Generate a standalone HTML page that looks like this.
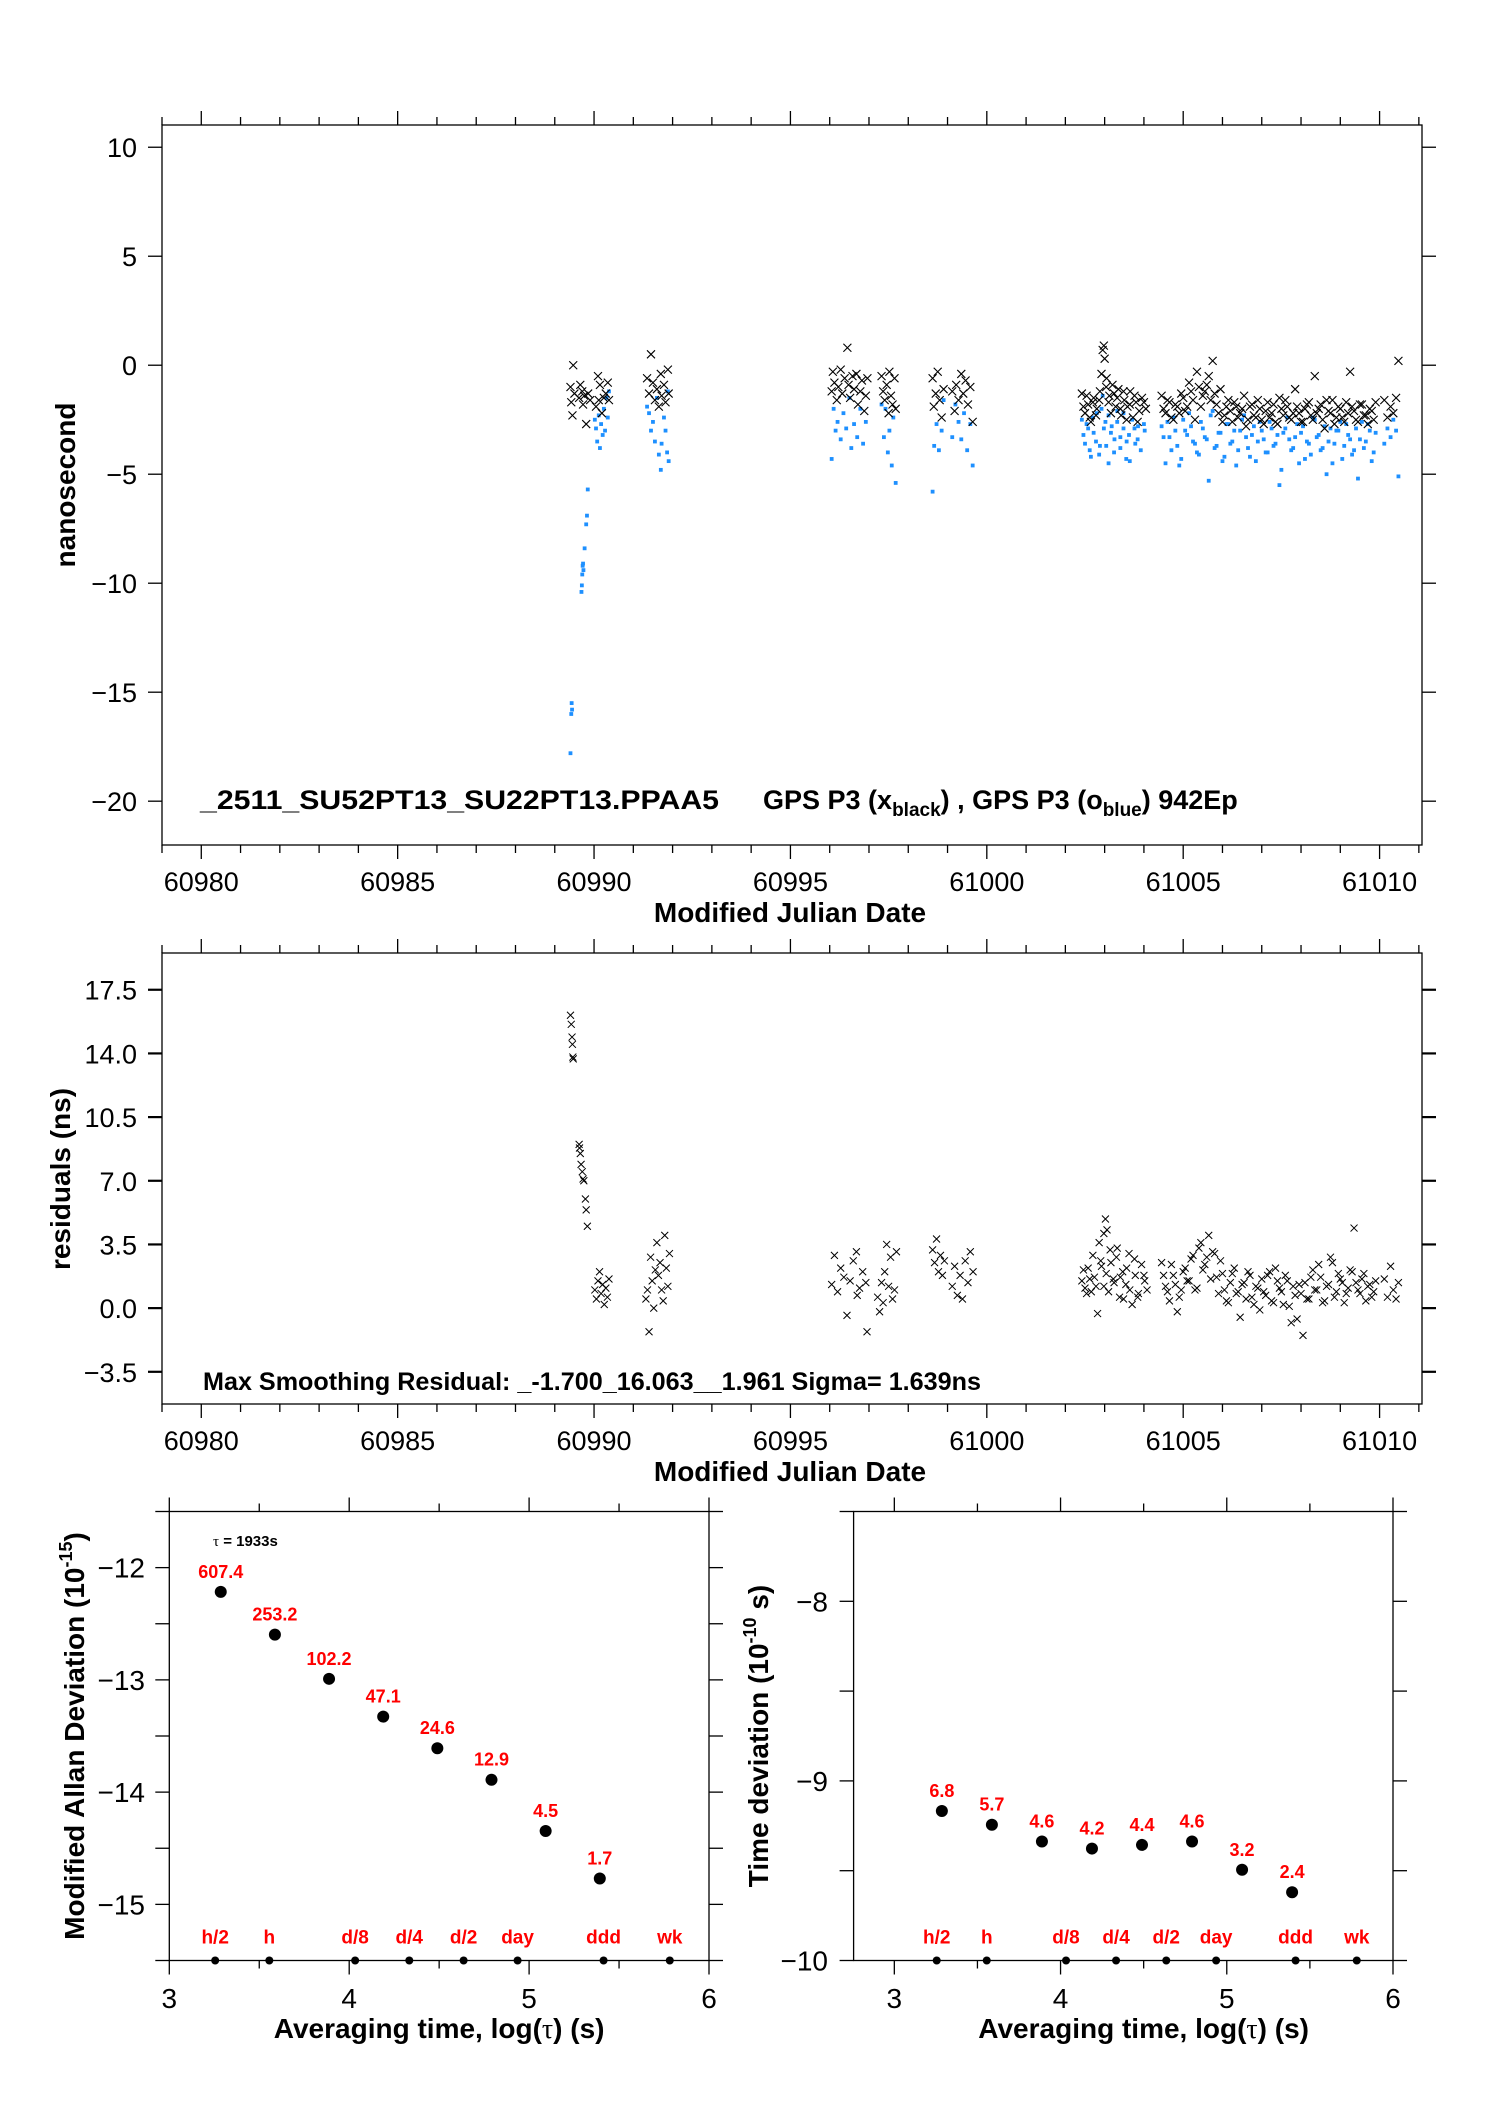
<!DOCTYPE html>
<html><head><meta charset="utf-8"><style>
html,body{margin:0;padding:0;background:#fff;}
svg{display:block;font-family:"Liberation Sans",Arial,sans-serif;}
</style></head><body>
<svg id="fig" width="1488" height="2105" viewBox="0 0 1488 2105" xmlns="http://www.w3.org/2000/svg">
<rect width="1488" height="2105" fill="#fff"/>
<g id="p1"></g>
<g id="p2"></g>
<g id="p3"></g>
<g id="p4"></g>
</svg>
<script>
// ---------- DATA ----------
const blackT=[60989.40,60989.42,60989.45,60989.47,60989.50,60989.62,60989.65,60989.70,60989.72,60989.75,60989.80,60989.85,60989.90,60990.05,60990.10,60990.12,60990.15,60990.20,60990.25,60990.30,60990.35,60990.38,
60991.35,60991.40,60991.45,60991.50,60991.55,60991.60,60991.65,60991.70,60991.72,60991.78,60991.82,60991.88,60991.90,
60996.05,60996.08,60996.12,60996.18,60996.22,60996.28,60996.32,60996.38,60996.45,60996.48,60996.52,60996.58,60996.62,60996.68,60996.72,60996.78,60996.82,60996.88,60996.92,60996.96,
60997.32,60997.36,60997.40,60997.45,60997.50,60997.52,60997.56,60997.60,60997.65,60997.68,
60998.62,60998.65,60998.70,60998.75,60998.80,60998.85,60998.90,
60999.12,60999.18,60999.22,60999.28,60999.35,60999.40,60999.46,60999.52,60999.58,60999.64,
61002.42,61002.50,61002.58,61002.65,61002.72,61002.80,61002.88,61002.95,61003.00,61003.05,61003.12,61003.20,61003.28,61003.35,61003.42,61003.50,61003.58,61003.65,61003.72,61003.80,61003.88,61003.95,61004.05,
61004.45,61004.55,61004.65,61004.75,61004.85,61004.95,61005.05,61005.15,61005.25,61005.35,61005.45,61005.55,61005.65,61005.75,61005.85,61005.95,61006.05,61006.15,61006.25,61006.35,61006.45,61006.55,61006.65,61006.75,61006.85,61006.95,61007.05,61007.15,61007.25,61007.35,61007.45,61007.55,61007.65,61007.75,61007.85,61007.95,61008.05,61008.15,61008.25,61008.35,61008.45,61008.55,61008.65,61008.75,61008.85,61008.95,61009.05,61009.15,61009.25,61009.35,61009.45,61009.55,61009.65,61009.75,61009.85,
61010.12,61010.20,61010.28,61010.35,61010.42,61010.48];
const blackV=[-1.0,-1.7,-2.3,0.0,-1.3,-1.5,-0.9,-1.2,-1.8,-1.4,-2.7,-1.3,-1.6,-1.9,-0.5,-1.6,-0.9,-2.2,-1.5,-1.3,-0.8,-1.6,
-0.6,-1.3,0.5,-0.8,-1.6,-1.1,-1.9,-0.4,-1.4,-0.9,-1.7,-0.2,-1.3,
-1.2,-0.3,-0.8,-1.6,-1.0,-0.2,-1.3,-0.6,0.8,-0.9,-1.5,-0.5,-1.1,-0.4,-1.8,-1.2,-0.7,-2.1,-1.4,-0.6,
-0.5,-1.2,-1.6,-0.9,-2.2,-0.3,-1.4,-1.8,-0.6,-2.0,
-0.6,-1.9,-1.3,-0.3,-1.6,-2.4,-1.1,
-1.2,-2.1,-0.9,-1.6,-0.4,-1.3,-0.7,-1.8,-1.0,-2.6,
-1.3,-2.2,-1.8,-2.6,-1.5,-2.0,-1.2,0.7,0.3,-0.6,-1.4,-0.9,-1.9,-1.1,-2.3,-1.6,-1.9,-1.2,-2.4,-1.7,-2.1,-1.5,-2.0,
-1.4,-2.2,-1.7,-2.5,-1.9,-1.3,-2.1,-0.8,-1.6,-0.3,-1.9,-1.2,-0.5,0.2,-1.8,-1.1,-2.3,-1.6,-2.6,-1.9,-2.2,-1.4,-2.5,-1.8,-2.4,-2.0,-2.7,-1.7,-2.2,-2.6,-1.5,-2.3,-1.9,-2.5,-1.1,-2.2,-2.6,-1.8,-2.3,-0.5,-2.0,-2.5,-1.6,-2.2,-2.7,-1.9,-2.4,-1.7,-0.3,-2.1,-2.6,-1.8,-2.3,-2.0,-2.5,
-1.6,-2.4,-1.9,-2.2,-1.5,0.2];
// extra sampling times for the dense late segments (shared by all three series)
const denseT=[61002.46,61002.54,61002.62,61002.70,61002.78,61002.86,61002.92,61002.98,61003.04,61003.10,61003.16,61003.24,61003.32,61003.40,61003.48,61003.56,61003.64,61003.76,61003.84,61004.00,
61004.50,61004.60,61004.70,61004.80,61004.90,
61005.00,61005.10,61005.20,61005.30,61005.40,61005.50,61005.60,61005.70,61005.80,61005.90,
61006.00,61006.10,61006.20,61006.30,61006.40,61006.50,61006.60,61006.70,61006.80,61006.90,
61007.00,61007.10,61007.20,61007.30,61007.40,61007.50,61007.60,61007.70,61007.80,61007.90,
61008.00,61008.10,61008.20,61008.30,61008.40,61008.50,61008.60,61008.70,61008.80,61008.90,
61009.00,61009.10,61009.20,61009.30,61009.40,61009.50,61009.60,61009.70,61009.80,61009.90];
const blackDenseV=[-1.9,-1.4,-2.4,-1.7,-2.3,-1.6,-0.4,0.9,-1.0,-1.7,-2.2,-1.3,-1.5,-2.0,-1.2,-2.5,-1.8,-1.4,-2.6,-1.7,
-2.0,-1.6,-2.4,-1.8,-2.2,-1.5,-1.9,-1.2,-2.5,-1.0,
-1.4,-0.9,-1.6,-1.3,-2.2,-2.6,-1.9,-2.1,-1.7,-2.4,
-2.0,-2.8,-1.9,-2.3,-1.6,-2.5,-2.1,-2.4,-1.8,-2.7,
-2.0,-1.6,-2.4,-2.2,-1.9,-2.6,-2.0,-1.7,-2.5,-2.2,
-1.8,-2.9,-2.1,-1.6,-2.4,-2.0,-2.6,-2.2,-1.9,-2.5,
-1.8,-2.3,-2.7,-2.1,-1.7];
const blueT=[60989.40,60989.42,60989.43,60989.44,60989.68,60989.69,60989.70,60989.71,60989.72,60989.73,60989.76,60989.80,60989.82,60989.84,
60990.02,60990.05,60990.08,60990.12,60990.15,60990.18,60990.22,60990.25,60990.28,60990.32,60990.35,60990.38,
60991.35,60991.40,60991.45,60991.50,60991.55,60991.60,60991.65,60991.70,60991.72,60991.78,60991.82,60991.86,60991.90,60991.88,
60996.05,60996.10,60996.15,60996.20,60996.28,60996.35,60996.42,60996.50,60996.55,60996.62,60996.70,60996.78,60996.85,60996.92,
60997.32,60997.38,60997.42,60997.48,60997.52,60997.58,60997.62,60997.68,
60998.62,60998.66,60998.72,60998.78,60998.85,60998.90,
60999.12,60999.20,60999.28,60999.35,60999.42,60999.50,60999.58,60999.64,
61002.42,61002.50,61002.58,61002.65,61002.72,61002.80,61002.88,61002.95,61003.02,61003.10,61003.18,61003.25,61003.32,61003.40,61003.48,61003.55,61003.62,61003.70,61003.78,61003.85,61003.92,61004.02,
61004.45,61004.55,61004.65,61004.75,61004.85,61004.95,61005.05,61005.15,61005.25,61005.35,61005.45,61005.55,61005.65,61005.75,61005.85,61005.95,61006.05,61006.15,61006.25,61006.35,61006.45,61006.55,61006.65,61006.75,61006.85,61006.95,61007.05,61007.15,61007.25,61007.35,61007.45,61007.55,61007.65,61007.75,61007.85,61007.95,61008.05,61008.15,61008.25,61008.35,61008.45,61008.55,61008.65,61008.75,61008.85,61008.95,61009.05,61009.15,61009.25,61009.35,61009.45,61009.55,61009.65,61009.75,61009.85,
61010.12,61010.20,61010.28,61010.35,61010.42,61010.48];
const blueV=[-17.8,-16.0,-15.5,-15.8,-10.4,-10.1,-9.6,-9.2,-9.1,-9.4,-8.4,-7.3,-6.9,-5.7,
-2.5,-2.9,-3.5,-2.3,-3.8,-2.7,-3.2,-2.0,-3.0,-1.5,-2.4,-1.2,
-1.9,-2.2,-3.0,-2.6,-3.5,-1.5,-4.1,-4.8,-3.6,-2.4,-3.0,-4.0,-4.4,-1.2,
-4.3,-2.0,-3.0,-2.6,-3.4,-2.2,-2.9,-1.5,-3.8,-2.7,-3.3,-2.0,-3.6,-2.6,
-1.8,-3.3,-2.0,-4.0,-3.0,-4.6,-2.4,-5.4,
-5.8,-3.7,-2.7,-3.9,-3.0,-1.6,
-3.3,-1.8,-2.6,-3.4,-2.2,-3.9,-2.7,-4.6,
-2.5,-3.6,-2.9,-4.2,-3.1,-2.2,-3.7,-1.4,-2.6,-4.5,-2.8,-3.4,-2.1,-3.8,-2.9,-4.3,-3.2,-2.5,-3.6,-2.8,-3.9,-3.0,
-2.8,-4.5,-3.3,-2.4,-3.7,-4.3,-3.0,-2.2,-3.5,-4.0,-2.6,-3.3,-5.3,-2.1,-3.7,-3.1,-4.2,-2.7,-3.5,-4.6,-3.0,-2.3,-3.8,-3.2,-4.4,-2.6,-3.4,-4.0,-2.9,-3.6,-5.5,-3.1,-2.4,-3.9,-3.3,-4.5,-2.8,-3.5,-4.1,-2.5,-3.2,-3.8,-5.0,-2.9,-3.6,-3.0,-4.3,-2.7,-3.4,-3.9,-5.2,-2.6,-3.5,-3.0,-4.0,
-3.6,-2.9,-3.3,-2.5,-3.0,-5.1];
const blueDenseV=[-3.2,-2.7,-3.9,-2.4,-3.5,-4.1,-2.0,-2.9,-3.7,-2.3,-3.1,-4.0,-2.6,-3.3,-2.2,-3.5,-4.4,-2.9,-3.4,-2.7,
-3.3,-2.6,-3.9,-3.0,-4.6,-2.5,-3.2,-2.8,-3.6,-4.1,
-2.9,-3.4,-2.3,-3.8,-3.1,-4.4,-2.7,-3.6,-3.0,-3.9,
-2.5,-3.3,-4.2,-2.8,-3.5,-3.0,-4.0,-2.6,-3.7,-3.2,
-4.8,-2.9,-3.4,-3.8,-2.7,-3.1,-4.3,-3.6,-2.4,-3.3,
-3.9,-2.8,-3.5,-4.5,-3.0,-2.6,-3.7,-3.2,-4.1,-2.9,
-3.4,-3.8,-2.7,-4.4,-3.1];
const resT=[60989.40,60989.42,60989.44,60989.45,60989.46,60989.47,
60989.62,60989.63,60989.65,60989.67,60989.70,60989.72,60989.74,60989.78,60989.80,60989.83,
60990.02,60990.06,60990.10,60990.14,60990.18,60990.22,60990.26,60990.30,60990.34,60990.38,
60991.32,60991.36,60991.40,60991.44,60991.48,60991.52,60991.56,60991.60,60991.64,60991.68,60991.72,60991.76,60991.80,60991.84,60991.88,60991.92,
60996.05,60996.12,60996.20,60996.28,60996.36,60996.44,60996.52,60996.60,60996.68,60996.76,60996.84,60996.92,60996.70,60996.95,
60997.22,60997.27,60997.32,60997.36,60997.40,60997.45,60997.50,60997.55,60997.60,60997.65,60997.70,
60998.62,60998.67,60998.72,60998.77,60998.82,60998.87,60998.92,
60999.12,60999.18,60999.25,60999.32,60999.38,60999.45,60999.52,60999.58,60999.65,
61002.42,61002.50,61002.58,61002.66,61002.74,61002.82,61002.90,61002.98,61003.02,61003.06,61003.14,61003.22,61003.30,61003.38,61003.46,61003.54,61003.62,61003.70,61003.78,61003.86,61003.94,61004.02,61004.08,
61004.45,61004.55,61004.65,61004.75,61004.85,61004.95,61005.05,61005.15,61005.25,61005.35,61005.45,61005.55,61005.65,61005.75,61005.85,61005.95,61006.05,61006.15,61006.25,61006.35,61006.45,61006.55,61006.65,61006.75,61006.85,61006.95,61007.05,61007.15,61007.25,61007.35,61007.45,61007.55,61007.65,61007.75,61007.85,61007.95,61008.05,61008.15,61008.25,61008.35,61008.45,61008.55,61008.65,61008.75,61008.85,61008.95,61009.05,61009.15,61009.25,61009.35,61009.45,61009.55,61009.65,61009.75,61009.85,
61010.12,61010.20,61010.28,61010.35,61010.42,61010.48];
const resV=[16.1,15.6,14.9,14.5,13.8,13.7,
9.0,8.8,8.5,7.9,7.5,7.1,7.0,6.0,5.4,4.5,
1.0,0.5,1.5,2.0,0.8,1.3,0.2,1.1,0.6,1.6,
0.5,1.0,-1.3,2.8,1.5,0.0,2.1,3.6,1.8,2.5,1.0,0.4,4.0,2.2,1.2,3.0,
1.3,2.9,0.9,2.2,1.7,-0.4,1.5,2.6,3.1,1.1,2.0,1.4,0.7,-1.3,
0.6,-0.2,1.4,0.3,2.0,3.5,1.2,2.8,0.5,1.0,3.1,
3.2,2.5,3.8,2.0,2.9,1.8,2.6,
1.2,2.3,0.7,1.8,0.5,2.6,1.4,3.1,2.0,
1.5,1.1,2.2,0.9,1.7,-0.3,2.6,1.2,4.9,4.3,3.2,1.6,2.8,0.6,2.0,1.3,3.0,0.2,1.8,0.8,2.4,1.5,1.0,
2.5,1.2,0.4,1.8,-0.2,1.0,2.2,1.5,2.9,1.1,3.6,2.4,4.0,3.1,1.7,2.6,1.0,0.3,1.9,0.8,-0.5,1.4,2.0,0.6,1.2,-0.1,0.9,1.8,0.4,2.2,1.1,0.2,1.5,-0.8,0.7,1.3,-1.5,0.5,1.7,1.0,2.4,0.3,1.2,2.8,0.6,1.9,1.4,0.8,2.1,4.4,1.0,1.6,0.4,1.3,0.9,
1.6,0.6,2.3,1.0,0.5,1.4];
const resDenseV=[2.1,0.8,1.6,2.9,1.2,3.6,2.3,4.1,1.9,0.9,2.5,1.4,3.3,1.7,0.5,2.2,1.0,2.7,0.6,1.8,
1.8,0.9,2.4,1.3,0.6,2.0,1.5,2.7,1.0,3.3,
2.1,2.8,1.6,3.0,0.8,1.9,0.4,1.4,2.2,0.9,
1.3,0.5,1.8,0.2,1.1,1.6,0.7,2.0,0.3,1.5,
0.9,1.8,0.1,1.2,-0.6,0.8,1.4,0.5,2.1,1.0,
1.7,0.4,1.3,2.5,0.9,1.6,0.3,1.1,2.0,1.4,
0.8,1.9,1.2,0.6,1.5];
const mdevX=[3.286,3.587,3.888,4.189,4.490,4.791,5.092,5.393];
const mdevVals=[607.4,253.2,102.2,47.1,24.6,12.9,4.5,1.7];
const tdevX=[3.286,3.587,3.888,4.189,4.490,4.791,5.092,5.393];
const tdevVals=[6.8,5.7,4.6,4.2,4.4,4.6,3.2,2.4];
const markNames=["h/2","h","d/8","d/4","d/2","day","ddd","wk"];
const markX=[3.255,3.556,4.033,4.334,4.636,4.936,5.414,5.782];
const mjdTicks=[60980,60985,60990,60995,61000,61005,61010];
const nsTicks=[10,5,0,-5,-10,-15,-20];
const resTicks=[17.5,14.0,10.5,7.0,3.5,0.0,-3.5];
const mdevTicks=[-12,-13,-14,-15];
const tdevTicks=[-8,-9,-10];
const logTicks=[3,4,5,6];

// ---------- HELPERS ----------
const NS="http://www.w3.org/2000/svg";
function mk(tag,attrs,parent,txt){const e=document.createElementNS(NS,tag);for(const k in attrs)e.setAttribute(k,attrs[k]);if(txt!==undefined)e.textContent=txt;parent.appendChild(e);return e;}
function scale(d0,d1,r0,r1){return v=>r0+(v-d0)*(r1-r0)/(d1-d0);}
function frame(g,L,T,R,B){const f=mk('rect',{x:L,y:T,width:R-L,height:B-T,fill:'none',stroke:'#000','stroke-width':1.3},g);

}
function tick(g,x1,y1,x2,y2,w){mk('line',{x1:x1,y1:y1,x2:x2,y2:y2,stroke:'#000','stroke-width':w||1.3},g);}

// ---------- MJD PLOTS ----------
const L=162,R=1422;
const xM=scale(60979,61011.08,L,R);
function mjdAxis(g,T,B,labelY,titleY){
  for(let d=60979;d<=61011;d++){const x=xM(d);const maj=(d%5===0);
    tick(g,x,T,x,T-(maj?14:8));tick(g,x,B,x,B+(maj?14:8));}
  const ax=mk('g',{},g);
  
  
  mjdTicks.forEach(v=>{const t=mk('text',{x:xM(v),y:labelY,'font-size':27,'text-anchor':'middle'},ax,String(v));
    
    });
  const tt=mk('text',{x:790,y:titleY,'font-size':28,'font-weight':'bold','text-anchor':'middle'},g,'Modified Julian Date');
  
  
}
function crosses(g,ts,vs,y,h,name){
  ts.forEach((t,i)=>{const cx=xM(t),cy=y(vs[i]);
    const p=mk('path',{d:`M${cx-h} ${cy-h}L${cx+h} ${cy+h}M${cx-h} ${cy+h}L${cx+h} ${cy-h}`},g);
    
    });
}
function squares(g,ts,vs,y){
  ts.forEach((t,i)=>{const r=mk('rect',{x:xM(t)-1.9,y:y(vs[i])-1.9,width:3.8,height:3.8},g);
    
    });
}
// plot 1
(function(){
  const g=document.getElementById('p1');const T=125,B=845;
  const y=scale(11.02,-22.01,T,B);
  frame(g,L,T,R,B);
  mjdAxis(g,T,B,891,922);
  nsTicks.forEach(v=>{tick(g,L,y(v),L-14,y(v));tick(g,R,y(v),R+14,y(v));
    const t=mk('text',{x:137,y:y(v)+10,'font-size':27,'text-anchor':'end'},g,String(v).replace('-','\u2212'));
    
    });
  const yl=mk('text',{x:0,y:0,'font-size':28,'font-weight':'bold','text-anchor':'middle',transform:'translate(75,485) rotate(-90)'},g,'nanosecond');
  
  
  const bs=mk('g',{fill:'#1e90ff'},g);
  
  
  squares(bs,blueT,blueV,y);
  squares(bs,denseT,blueDenseV,y);
  const ks=mk('g',{stroke:'#000','stroke-width':1.1},g);
  
  
  crosses(ks,blackT,blackV,y,4,'black-point');
  crosses(ks,denseT,blackDenseV,y,4,'black-point');
  const a1=mk('text',{x:200,y:809,'font-size':27,'font-weight':'bold',textLength:519,lengthAdjust:'spacingAndGlyphs'},g,'_2511_SU52PT13_SU22PT13.PPAA5');
  
  
  const a2=mk('text',{x:763,y:809,'font-size':27,'font-weight':'bold'},g);
  
  
  a2.innerHTML='GPS P3 (x<tspan font-size="19" dy="7">black</tspan><tspan dy="-7">) ,  GPS P3 (o</tspan><tspan font-size="19" dy="7">blue</tspan><tspan dy="-7">)  942Ep</tspan>';
})();
// plot 2
(function(){
  const g=document.getElementById('p2');const T=953,B=1404;
  const y=scale(19.52,-5.27,T,B);
  frame(g,L,T,R,B);
  mjdAxis(g,T,B,1450,1481);
  resTicks.forEach(v=>{tick(g,L,y(v),L-14,y(v),2.2);tick(g,R,y(v),R+14,y(v),2.2);
    const t=mk('text',{x:137,y:y(v)+10,'font-size':27,'text-anchor':'end'},g,v.toFixed(1).replace('-','\u2212'));
    
    });
  const yl=mk('text',{x:0,y:0,'font-size':28,'font-weight':'bold','text-anchor':'middle',transform:'translate(70,1179) rotate(-90)'},g,'residuals (ns)');
  
  
  const ks=mk('g',{stroke:'#000','stroke-width':1},g);
  
  
  crosses(ks,resT,resV,y,3.5,'residual-point');
  crosses(ks,denseT,resDenseV,y,3.5,'residual-point');
  const a=mk('text',{x:203,y:1390,'font-size':25,'font-weight':'bold',textLength:778,lengthAdjust:'spacingAndGlyphs'},g,'Max Smoothing Residual: _-1.700_16.063__1.961  Sigma= 1.639ns');
  
  
})();
// ---------- STABILITY PLOTS ----------
function stab(g,Lp,Rp,x0,yr,vals,xs,yTicks,yfun,labelRight,titleX,title,sup,tail,extra){
  const T=1511.5,B=1960.5;
  const x=scale(x0,6,Lp,Rp),y=scale(yr[1],yr[0],T,B);
  frame(g,Lp,T,Rp,B);
  for(let v=3;v<=6.001;v+=0.5){const px=x(v);const maj=Math.abs(v-Math.round(v))<0.01;
    tick(g,px,B,px,B+(maj?14:8));tick(g,px,T,px,T-(maj?14:8));}
  logTicks.forEach(v=>{const t=mk('text',{x:x(v),y:2008,'font-size':28,'text-anchor':'middle'},g,String(v));
    
    });
  for(let v=yr[0];v<=yr[1]+0.001;v+=0.5){tick(g,Lp,y(v),Lp-14,y(v));tick(g,Rp,y(v),Rp+14,y(v));}
  yTicks.forEach(v=>{const t=mk('text',{x:labelRight,y:y(v)+10,'font-size':28,'text-anchor':'end'},g,String(v).replace('-','\u2212'));
    
    });
  const xt=mk('text',{x:(x(3)+x(6))/2,y:2038,'font-size':28,'font-weight':'bold','text-anchor':'middle'},g);
  
  
  xt.innerHTML='Averaging time, log(<tspan font-family="Liberation Serif,serif" font-weight="normal">\u03c4</tspan>) (s)';
  const yt=mk('text',{x:0,y:0,'font-size':28,'font-weight':'bold','text-anchor':'middle',transform:`translate(${titleX},1736) rotate(-90)`},g);
  
  
  yt.innerHTML=title+'(10<tspan font-size="18" dy="-12">'+sup+'</tspan><tspan dy="12">'+tail+')</tspan>';
  const pts=mk('g',{},g);
  
  
  xs.forEach((xv,i)=>{const cy=y(yfun(vals[i]));
    const c=mk('circle',{cx:x(xv),cy:cy,r:6,fill:'#000'},pts);
    
    
    const t=mk('text',{x:x(xv),y:cy-14,'font-size':18,'font-weight':'bold',fill:'#f00','text-anchor':'middle'},pts,vals[i].toFixed(1));
    
    });
  const mg=mk('g',{},g);
  
  
  markX.forEach((mx,i)=>{const c=mk('circle',{cx:x(mx),cy:B,r:4,fill:'#000'},mg);
    
    
    const t=mk('text',{x:x(mx),y:B-17,'font-size':19,'font-weight':'bold',fill:'#f00','text-anchor':'middle'},mg,markNames[i]);
    
    });
  if(extra)extra(g);
}
stab(document.getElementById('p3'),169.3,709,3,[-15.5,-11.5],mdevVals,mdevX,mdevTicks,v=>Math.log10(v*1e-15),145,84,'Modified Allan Deviation ','-15','',
  g=>{const t=mk('text',{x:213,y:1546,'font-size':15,'font-weight':'bold'},g);
   
   
   t.innerHTML='<tspan font-family="Liberation Serif,serif" font-weight="normal">\u03c4</tspan> = 1933s';});
stab(document.getElementById('p4'),853.6,1393,2.755,[-10,-7.5],tdevVals,tdevX,tdevTicks,v=>Math.log10(v*1e-10),828,768,'Time deviation ','-10',' s','');
</script>
</body></html>
